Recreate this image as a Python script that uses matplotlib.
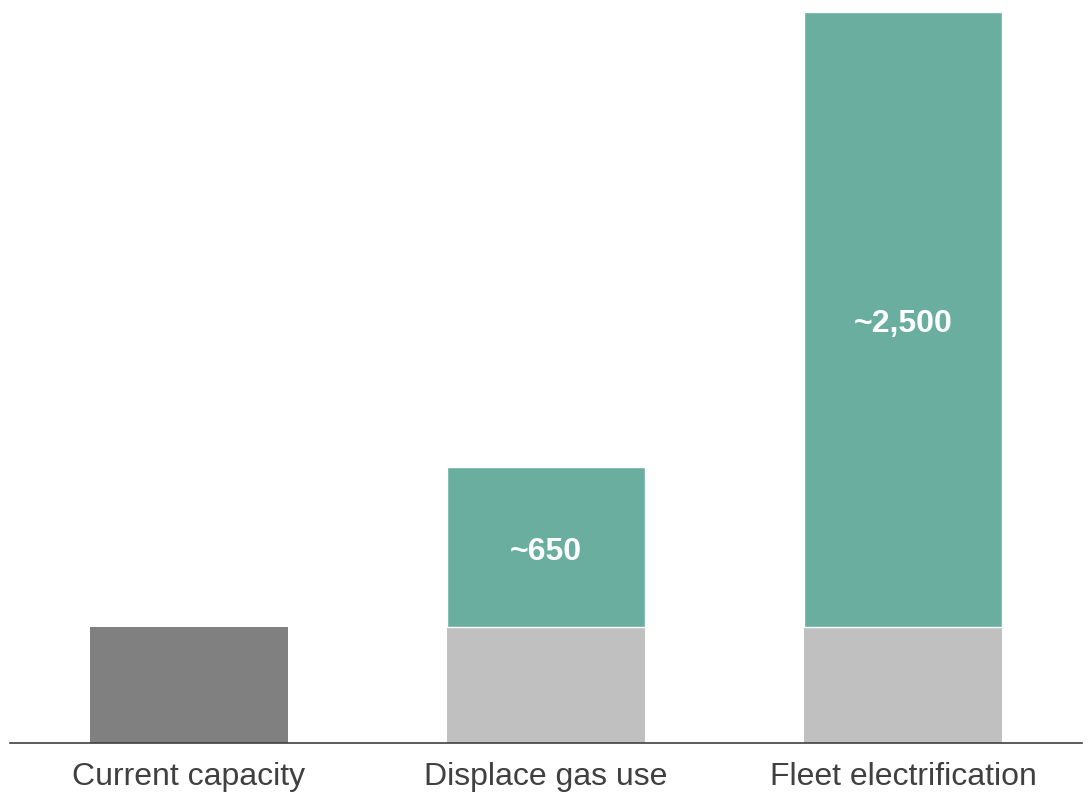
import matplotlib
matplotlib.use("Agg")
import matplotlib.pyplot as plt

categories = ["Current capacity", "Displace gas use", "Fleet electrification"]
base_values = [470, 470, 470]
added_values = [0, 650, 2500]
added_labels = ["", "~650", "~2,500"]
base_colors = ["#808080", "#C0C0C0", "#C0C0C0"]
teal = "#69AE9F"

plt.rcParams['font.family'] = ['Liberation Sans', 'DejaVu Sans']
fig = plt.figure(figsize=(10.89, 8), dpi=100)
ax = fig.add_axes([10/1089, 57/800, 1072/1089, 743/800])

x = list(range(len(categories)))
w = 0.555
ax.bar(x, base_values, width=w, color=base_colors, edgecolor='none')
for i in x:
    if added_values[i] > 0:
        ax.bar(i, added_values[i], bottom=base_values[i], width=w, color=teal,
               edgecolor='white', linewidth=1)
        ax.annotate(added_labels[i], (i, base_values[i] + added_values[i] / 2),
                    xytext=(0, -3), textcoords='offset points',
                    ha='center', va='center', color='white', fontsize=23, fontweight='bold')

ax.set_xlim(-0.5, 2.5)
ax.set_ylim(0, 3020)
ax.set_xticks(x)
ax.set_xticklabels(categories, fontsize=23, color='#404040')
ax.tick_params(axis='x', length=0, pad=14)
ax.set_yticks([])
for s in ['top', 'right', 'left']:
    ax.spines[s].set_visible(False)
ax.spines['bottom'].set_color('#404040')
ax.spines['bottom'].set_linewidth(1.2)

fig.savefig("out.png", dpi=100)
